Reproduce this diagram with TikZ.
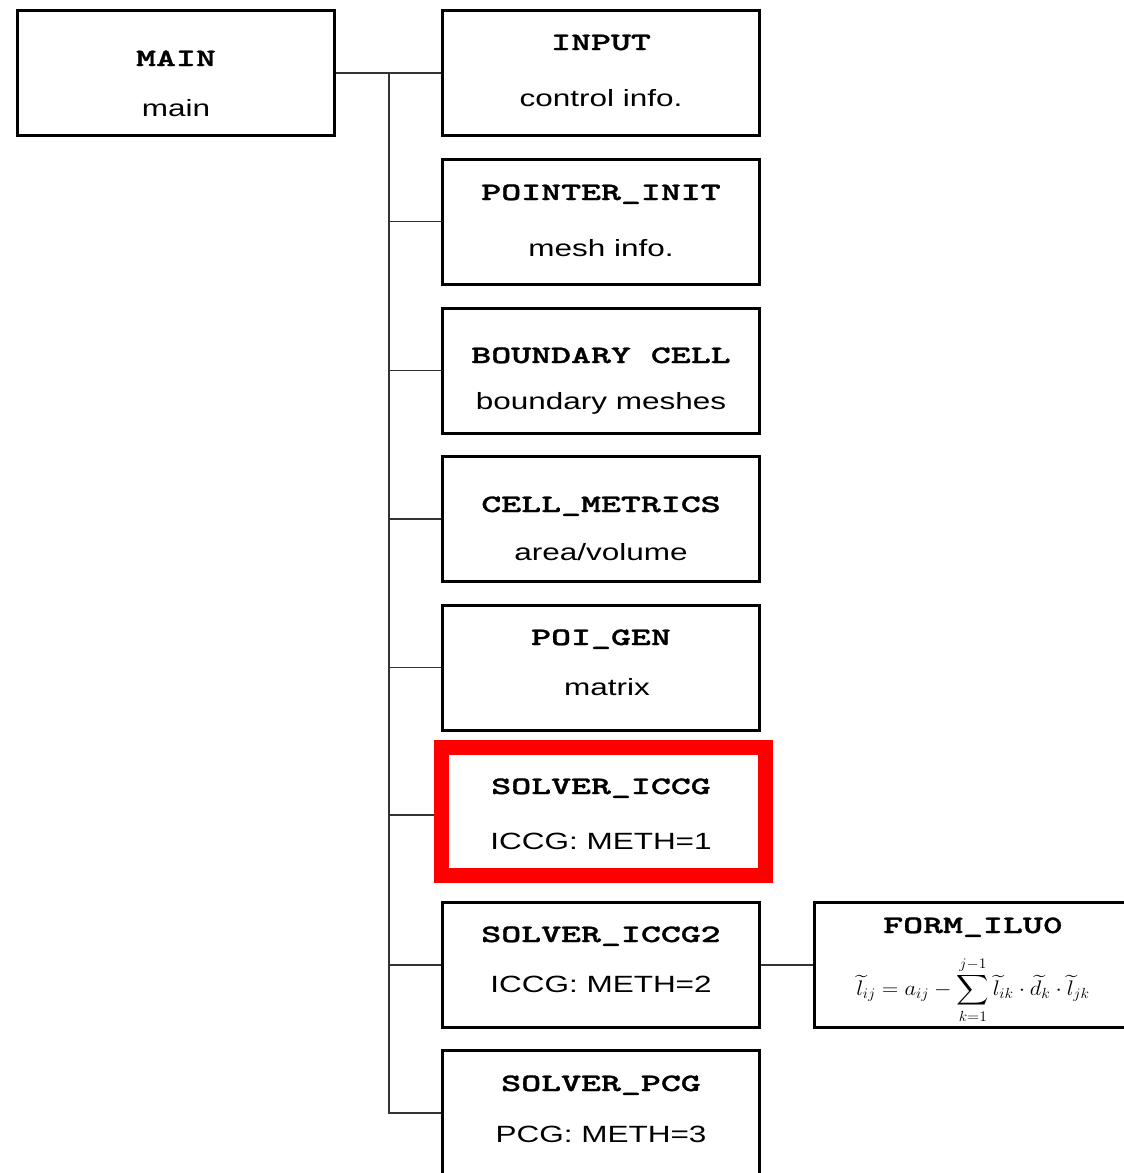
\documentclass[tikz,border=0pt]{standalone}
\usepackage{fontspec}
\setmainfont{Liberation Sans}[FakeStretch=1.34]
\newfontfamily\monob{lmmonolt10-bold.otf}[FakeStretch=1.52, FakeBold=1.3]
\usepackage{amsmath}
\newcommand\mtt[1]{{\monob #1}}
\begin{document}
\begin{tikzpicture}[x=1pt,y=-1pt,
  box/.style={draw=black, line width=3pt, rectangle, minimum width=317pt, minimum height=125pt, inner sep=0pt},
  redbox/.style={draw=red, line width=15pt, rectangle, minimum width=324pt, minimum height=128pt, inner sep=0pt},
  ttl/.style={font=\fontsize{25}{25}\selectfont, anchor=base, inner sep=0pt},
  sub/.style={font=\fontsize{23.5}{23.5}\selectfont, anchor=base, inner sep=0pt},
  conn/.style={draw=black!80, line width=1.5pt}]
\useasboundingbox (0,0) rectangle (1124,1173);
\clip (0,0) rectangle (1124,1173);
\fill[white] (0,0) rectangle (1124,1173);

% boxes
\node[box] (main) at (176,73) {};
\node[box] (input) at (601,73) {};
\node[box] (pointer) at (601,221.5) {};
\node[box] (boundary) at (601,370.5) {};
\node[box] (cell) at (601,519) {};
\node[box] (poi) at (601,667.5) {};
\node[redbox] (iccg) at (603,811) {};
\node[box] (iccgtwo) at (601,965) {};
\node[box] (pcg) at (601,1113) {};
\node[box] (ilu) at (972.5,965) {};

% texts
\node[ttl] (mainT) at (176,66) {\mtt{MAIN}};
\node[sub] (mainS) at (176,116) {main};
\node[ttl] (inputT) at (601,50) {\mtt{INPUT}};
\node[sub] (inputS) at (601,106) {control info.};
\node[ttl] (pointerT) at (601,200) {\mtt{POINTER\_INIT}};
\node[sub] (pointerS) at (601,256) {mesh info.};
\node[ttl] (boundaryT) at (601,363) {\mtt{BOUNDARY CELL}};
\node[sub] (boundaryS) at (601,409) {boundary meshes};
\node[ttl] (cellT) at (601,512) {\mtt{CELL\_METRICS}};
\node[sub] (cellS) at (601,560) {area/volume};
\node[ttl] (poiT) at (601,645) {\mtt{POI\_GEN}};
\node[sub] (poiS) at (607,695) {matrix};
\node[ttl] (iccgT) at (601,794) {\mtt{SOLVER\_ICCG}};
\node[sub] (iccgS) at (601,849) {ICCG: METH=1};
\node[ttl] (iccgtwoT) at (601,942) {\mtt{SOLVER\_ICCG2}};
\node[sub] (iccgtwoS) at (601,992) {ICCG: METH=2};
\node[ttl] (pcgT) at (601,1091) {\mtt{SOLVER\_PCG}};
\node[sub] (pcgS) at (601,1142) {PCG: METH=3};
\node[ttl] (iluT) at (973,933) {\mtt{FORM\_ILU0}};
\node[inner sep=0pt] (iluF) at (973,990) {\scalebox{1.3}[1.22]{\fontsize{17}{17}\selectfont$\displaystyle \widetilde{l}_{ij}=a_{ij}-\sum_{k=1}^{j-1}\widetilde{l}_{ik}\cdot\widetilde{d}_{k}\cdot\widetilde{l}_{jk}$}};

% connectors
\coordinate (tr) at (389,73);
\draw[conn] (main.east) -- (input.west);
\draw[conn] (tr) |- (pcg.west);
\draw[conn] (tr |- pointer.west) -- (pointer.west);
\draw[conn] (tr |- boundary.west) -- (boundary.west);
\draw[conn] (tr |- cell.west) -- (cell.west);
\draw[conn] (tr |- poi.west) -- (poi.west);
\draw[conn] (389,815) coordinate (bi) -- (bi -| iccg.west);
\draw[conn] (tr |- iccgtwo.west) -- (iccgtwo.west);
\draw[conn] (iccgtwo.east) -- (ilu.west);
\end{tikzpicture}
\end{document}
